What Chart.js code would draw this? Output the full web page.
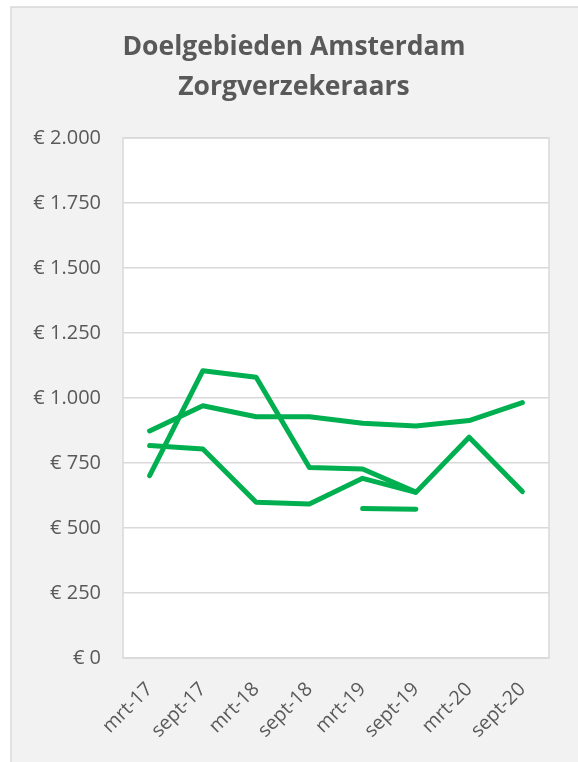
<!DOCTYPE html>
<html>
<head>
<meta charset="utf-8">
<script src="https://cdn.jsdelivr.net/npm/chart.js@4.4.1/dist/chart.umd.min.js"></script>
<style>
  html, body { margin: 0; padding: 0; background: #ffffff; }
  #wrap { position: absolute; left: 0; top: 0; width: 578px; height: 762px; }
</style>
</head>
<body>
<div id="wrap"><canvas id="c" width="578" height="762"></canvas></div>
<script>
// Periods on the horizontal axis
const periods = ['mrt-17', 'sept-17', 'mrt-18', 'sept-18', 'mrt-19', 'sept-19', 'mrt-20', 'sept-20'];

// Amounts in euro per series
const reeksA = [873, 970, 928, 928, 903, 892, 913, 982];
const reeksB = [701, 1105, 1080, 733, 727, 638, null, null];
const reeksC = [817, 804, 599, 592, 691, 637, 849, 640];
const reeksD = [null, null, null, null, 575, 572, null, null];

// Value axis ticks
const yTicks = [0, 250, 500, 750, 1000, 1250, 1500, 1750, 2000];

const titleLines = ['Doelgebieden Amsterdam', 'Zorgverzekeraars'];

const GREEN = '#00B050';
const GRID = '#d9d9d9';
const TEXT = '#595959';
const FONT = "'Open Sans', 'Noto Sans', sans-serif";

function euro(v) {
  return '€ ' + Math.round(v).toString().replace(/\B(?=(\d{3})+(?!\d))/g, '.');
}

function lineSet(label, data) {
  return {
    label: label,
    data: data,
    borderColor: GREEN,
    backgroundColor: GREEN,
    borderWidth: 5,
    borderCapStyle: 'round',
    borderJoinStyle: 'round',
    pointRadius: 0,
    pointHoverRadius: 0,
    tension: 0,
    spanGaps: false,
    fill: false
  };
}

// Chart frame, grey panel and white plot area
const framePlugin = {
  id: 'frame',
  beforeDraw(chart) {
    const ctx = chart.ctx;
    const a = chart.chartArea;
    ctx.save();
    ctx.fillStyle = '#ffffff';
    ctx.fillRect(0, 0, chart.width, chart.height);
    ctx.fillStyle = '#f2f2f2';
    ctx.fillRect(11, 7, chart.width, chart.height);
    ctx.strokeStyle = GRID;
    ctx.lineWidth = 1.5;
    ctx.beginPath();
    ctx.moveTo(11, chart.height + 5);
    ctx.lineTo(11, 7);
    ctx.lineTo(chart.width + 5, 7);
    ctx.stroke();
    ctx.fillStyle = '#ffffff';
    ctx.fillRect(a.left, a.top, a.right - a.left, a.bottom - a.top);
    ctx.restore();
  },
  beforeDatasetsDraw(chart) {
    const ctx = chart.ctx;
    const a = chart.chartArea;
    ctx.save();
    ctx.strokeStyle = GRID;
    ctx.lineWidth = 1.5;
    ctx.strokeRect(a.left, a.top, a.right - a.left, a.bottom - a.top);
    ctx.restore();
  }
};

new Chart(document.getElementById('c'), {
  type: 'line',
  data: {
    labels: periods,
    datasets: [
      lineSet('A', reeksA),
      lineSet('B', reeksB),
      lineSet('C', reeksC),
      lineSet('D', reeksD)
    ]
  },
  options: {
    responsive: false,
    animation: false,
    events: [],
    layout: { padding: { left: 10, right: 0, top: 0, bottom: 0 } },
    plugins: {
      legend: { display: false },
      tooltip: { enabled: false },
      title: {
        display: true,
        text: titleLines,
        color: TEXT,
        font: { family: FONT, size: 26.5, weight: 'bold', lineHeight: 1.49 },
        padding: { top: 28, bottom: 31 }
      }
    },
    scales: {
      x: {
        offset: true,
        grid: { display: false, drawTicks: false },
        border: { display: false },
        ticks: {
          color: TEXT,
          font: { family: FONT, size: 19.5 },
          maxRotation: 45,
          minRotation: 45,
          padding: 20,
          autoSkip: false
        },
        afterFit(scale) { scale.height = 104; }
      },
      y: {
        min: 0,
        max: 2000,
        afterBuildTicks(scale) { scale.ticks = yTicks.map(v => ({ value: v })); },
        grid: { color: GRID, lineWidth: 1.5, drawTicks: false },
        border: { display: false },
        ticks: {
          color: TEXT,
          font: { family: FONT, size: 20 },
          padding: 22,
          callback: (v) => euro(v)
        },
        afterFit(scale) { scale.width = 113; }
      },
      // empty margin axis on the right side of the plot
      yMarge: {
        position: 'right',
        min: 0,
        max: 2000,
        grid: { display: false, drawTicks: false },
        border: { display: false },
        ticks: { display: false },
        afterFit(scale) { scale.width = 29; }
      }
    }
  },
  plugins: [framePlugin]
});
</script>
</body>
</html>
